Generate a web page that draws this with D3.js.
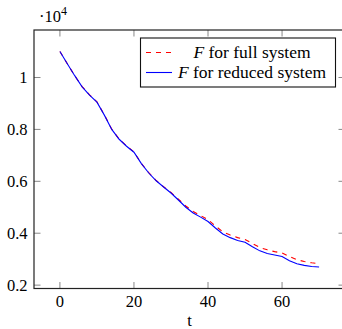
<!DOCTYPE html>
<html>
<head>
<meta charset="utf-8">
<script src="https://cdn.jsdelivr.net/npm/d3@7"></script>
<style>
  body { margin: 0; background: #fff; }
  svg { display: block; }
</style>
</head>
<body>
<svg id="chart"></svg>
<script>
const width = 342;
const height = 329;

// data (values in units of 10^4)
const tFull = [0, 2, 4, 6, 8, 10, 12, 14, 16, 18, 20, 22, 24, 26, 28, 30, 32, 34, 36, 38, 40,
    42, 44, 46, 48, 50, 52, 54, 56, 58, 60, 62, 64, 66, 68, 70];
const fullSystem = [1.10, 1.053, 1.007, 0.965, 0.933, 0.906, 0.856, 0.801, 0.763, 0.736, 0.713,
    0.669, 0.633, 0.603, 0.579, 0.557, 0.531, 0.505, 0.484, 0.468, 0.452, 0.428, 0.405, 0.393,
    0.383, 0.376, 0.360, 0.345, 0.336, 0.329, 0.324, 0.310, 0.298, 0.291, 0.286, 0.283];
const reducedSystem = [1.10, 1.053, 1.007, 0.964, 0.932, 0.905, 0.855, 0.800, 0.762, 0.735, 0.712,
    0.668, 0.632, 0.602, 0.578, 0.555, 0.528, 0.500, 0.478, 0.462, 0.445, 0.420, 0.397, 0.383,
    0.372, 0.365, 0.348, 0.332, 0.322, 0.316, 0.310, 0.294, 0.282, 0.276, 0.272, 0.270];
const xTicks = [0, 20, 40, 60];
const yTicks = [0.2, 0.4, 0.6, 0.8, 1];
const legendLabels = ["for full system", "for reduced system"];

const plotLeft = 34, plotRight = 345, plotTop = 30, plotBottom = 288.5;
const serif = "Liberation Serif";

const svg = d3.select("#chart")
    .attr("width", width)
    .attr("height", height)
    .attr("font-family", serif);

const x = d3.scaleLinear().domain([-7, 77]).range([plotLeft, plotRight]);
const y = d3.scaleLinear().domain([0.187, 1.183]).range([plotBottom, plotTop]);

const tickLen = 6.5;

// ticks on all four sides
const ticks = svg.append("g").attr("stroke", "#888").attr("stroke-width", 1);
xTicks.forEach(d => {
    ticks.append("line").attr("x1", x(d)).attr("x2", x(d)).attr("y1", plotBottom).attr("y2", plotBottom - tickLen);
    ticks.append("line").attr("x1", x(d)).attr("x2", x(d)).attr("y1", plotTop).attr("y2", plotTop + tickLen);
});
yTicks.forEach(d => {
    ticks.append("line").attr("x1", plotLeft).attr("x2", plotLeft + tickLen).attr("y1", y(d)).attr("y2", y(d));
    ticks.append("line").attr("x1", plotRight).attr("x2", plotRight - tickLen).attr("y1", y(d)).attr("y2", y(d));
});

// tick labels
svg.append("g").selectAll("text")
    .data(xTicks)
    .enter().append("text")
    .attr("x", d => x(d))
    .attr("y", 307)
    .attr("text-anchor", "middle")
    .attr("font-family", serif)
    .attr("font-size", 16.5)
    .text(d => d);

svg.append("g").selectAll("text")
    .data(yTicks)
    .enter().append("text")
    .attr("x", 27.5)
    .attr("y", d => y(d) + 5.5)
    .attr("text-anchor", "end")
    .attr("font-family", serif)
    .attr("font-size", 16.5)
    .text(d => d3.format("")(d));

// axis label
svg.append("text")
    .attr("x", x(35))
    .attr("y", 326)
    .attr("text-anchor", "middle")
    .attr("font-family", serif)
    .attr("font-size", 16.5)
    .text("t");

// scale factor label
const sf = svg.append("text").attr("x", 39).attr("y", 21.5)
    .attr("font-family", serif).attr("font-size", 16.5);
sf.append("tspan").text("\u00b710");
sf.append("tspan").attr("font-size", 12).attr("dy", -7).text("4");

// lines
const line = d3.line()
    .x((d, i) => x(tFull[i]))
    .y(d => y(d));

const plot = svg.append("g");

plot.append("path")
    .datum(fullSystem)
    .attr("d", line)
    .attr("fill", "none")
    .attr("stroke", "#ff0000")
    .attr("stroke-width", 1.1)
    .attr("stroke-dasharray", "5,5");

plot.append("path")
    .datum(reducedSystem)
    .attr("d", line)
    .attr("fill", "none")
    .attr("stroke", "#0000ff")
    .attr("stroke-width", 1.1);

// frame
svg.append("rect")
    .attr("x", plotLeft)
    .attr("y", plotTop)
    .attr("width", plotRight - plotLeft)
    .attr("height", plotBottom - plotTop)
    .attr("fill", "none")
    .attr("stroke", "#222")
    .attr("stroke-width", 1.2);

// legend
const legend = svg.append("g");
legend.append("rect")
    .attr("x", 140.5).attr("y", 38)
    .attr("width", 195).attr("height", 49)
    .attr("fill", "#fff")
    .attr("stroke", "#111")
    .attr("stroke-width", 1.1);

const legendRows = [
    { label: legendLabels[0], color: "#ff0000", dash: "5,5", y: 52.5 },
    { label: legendLabels[1], color: "#0000ff", dash: null, y: 72.5 }
];

legendRows.forEach(r => {
    legend.append("line")
        .attr("x1", 146).attr("x2", 172)
        .attr("y1", r.y).attr("y2", r.y)
        .attr("stroke", r.color)
        .attr("stroke-width", 1.1)
        .attr("stroke-dasharray", r.dash);
    const t = legend.append("text")
        .attr("x", 252)
        .attr("y", r.y + 5)
        .attr("text-anchor", "middle")
        .attr("font-family", serif)
        .attr("font-size", 17.5);
    t.append("tspan").attr("font-style", "italic").text("F");
    t.append("tspan").text(" " + r.label);
});
</script>
</body>
</html>
